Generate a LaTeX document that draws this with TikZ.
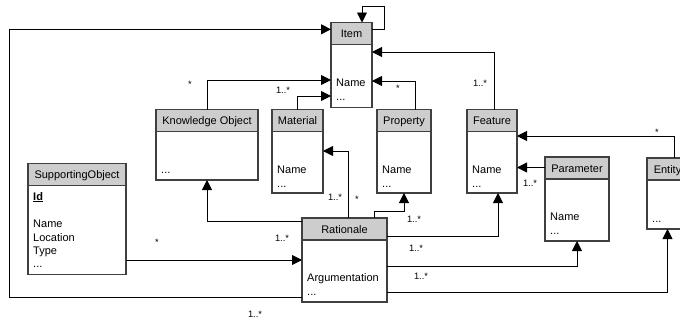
\documentclass[tikz,border=0pt]{standalone}
\usepackage{fontspec}
\setmainfont{Liberation Sans}
\usetikzlibrary{arrows.meta}
\definecolor{hdrgray}{RGB}{205,205,205}
\definecolor{frame}{RGB}{64,64,64}
\tikzset{
  umlbox/.style={draw=frame, line width=1.1pt, fill=white, anchor=north west,
    inner sep=0pt, outer sep=0pt,
    path picture={
      \fill[hdrgray] (path picture bounding box.north west) rectangle
        ([yshift=-22pt]path picture bounding box.north east);
      \draw[frame, line width=1.8pt] ([yshift=-22pt]path picture bounding box.north west) --
        ([yshift=-22pt]path picture bounding box.north east);
    }},
  boxtitle/.style={anchor=base, inner sep=0pt, yshift=-15pt, font=\fontsize{11}{13}\selectfont},
  boxtext/.style={anchor=base west, inner sep=0pt, font=\fontsize{11}{13}\selectfont},
  mult/.style={inner sep=0pt, font=\fontsize{9.3}{11}\selectfont},
  assoc/.style={draw=black, line width=0.9pt, -{Triangle[length=10pt,width=10pt]}},
}
% class box: name, left, top, right, bottom, title
\newcommand{\umlclass}[6]{%
  \node[umlbox, minimum width={(#4-#2)*1pt}, minimum height={(#5-#3)*1pt}] (#1) at (#2,#3) {};
  \node[boxtitle] (#1-title) at (#1.north) {#6};
}
\begin{document}
\begin{tikzpicture}[x=1pt, y=-1pt]
\useasboundingbox (0,0) rectangle (680,322);
\clip (0,0) rectangle (680,322);

% classes
\umlclass{item}{331}{22.5}{372}{107.5}{Item}
\umlclass{ko}{156}{109.5}{258}{180}{Knowledge Object}
\umlclass{mat}{272}{109.5}{323}{193}{Material}
\umlclass{prop}{377}{109.5}{431}{193}{Property}
\umlclass{feat}{467}{109.5}{517}{193}{Feature}
\umlclass{param}{545}{157}{609}{241}{Parameter}
\umlclass{ent}{647}{158}{688}{229}{Entity}
\umlclass{rat}{302}{218}{387}{302}{Rationale}
\umlclass{so}{28}{163.5}{126}{274.5}{SupportingObject}

% attributes
\node[boxtext] (item-a1) at (336,86) {Name};
\node[boxtext] (item-a2) at (336,100) {...};
\node[boxtext] (ko-a1) at (161,173) {...};
\node[boxtext] (mat-a1) at (277,173) {Name};
\node[boxtext] (mat-a2) at (277,187) {...};
\node[boxtext] (prop-a1) at (382,173) {Name};
\node[boxtext] (prop-a2) at (382,187) {...};
\node[boxtext] (feat-a1) at (472,173) {Name};
\node[boxtext] (feat-a2) at (472,187) {...};
\node[boxtext] (param-a1) at (550,220) {Name};
\node[boxtext] (param-a2) at (550,234) {...};
\node[boxtext] (ent-a1) at (652,222) {...};
\node[boxtext] (rat-a1) at (307,281) {Argumentation};
\node[boxtext] (rat-a2) at (307,295) {...};
\node[boxtext] (so-a1) at (33,200) {\underline{\textbf{Id}}};
\node[boxtext] (so-a2) at (33,227) {Name};
\node[boxtext] (so-a3) at (33,241) {Location};
\node[boxtext] (so-a4) at (33,254) {Type};
\node[boxtext] (so-a5) at (33,267) {...};

% associations
\draw[assoc] (ko.north) |- (item.west |- 0,80);
\draw[assoc] (mat.north) |- (item.west |- 0,96);
\draw[assoc] (prop.north -| 415,0) |- (item.east |- 0,81);
\draw[assoc] (feat.north -| 494,0) |- (item.east |- 0,52);
\draw[assoc] (ent.north -| 674,0) |- (feat.east |- 0,136);
\draw[assoc] (param.west |- 0,167.5) -- (feat.east |- 0,167.5);
\draw[assoc] (rat.west |- 0,221.5) -| (ko.south);
\draw[assoc] (rat.north -| 348,0) |- (mat.east |- 0,151);
\draw[assoc] (rat.north -| 374,0) |- (prop.south |- 0,211) -- (prop.south);
\draw[assoc] (rat.east |- 0,236) -| (feat.south -| 498,0);
\draw[assoc] (rat.east |- 0,266.7) -| (param.south);
\draw[assoc] (rat.east |- 0,292.7) -| (ent.south);
\draw[assoc] (so.east |- 0,260) -- (rat.west |- 0,260);
\draw[assoc] (rat.west |- 0,297) -- (9,297) -- (9,29.3) -- (item.west |- 0,29.3);
\draw[assoc] (item.east |- 0,29.3) -| (384,6) -| (item.north -| 362,0);

% multiplicities
\node[mult] (m-ko) at (190,84) {*};
\node[mult] (m-mat) at (283,90) {1..*};
\node[mult] (m-prop) at (398,88) {*};
\node[mult] (m-feat) at (480,83) {1..*};
\node[mult] (m-ent) at (657,132) {*};
\node[mult] (m-param) at (530,183) {1..*};
\node[mult] (m-rko) at (282,238) {1..*};
\node[mult] (m-rmat1) at (335,197) {1..*};
\node[mult] (m-rmat2) at (357,199) {*};
\node[mult] (m-rprop) at (414,219) {1..*};
\node[mult] (m-rfeat) at (416,248) {1..*};
\node[mult] (m-rparam) at (421,276) {1..*};
\node[mult] (m-so) at (157,242) {*};
\node[mult] (m-ritem) at (255,314) {1..*};
\end{tikzpicture}
\end{document}
